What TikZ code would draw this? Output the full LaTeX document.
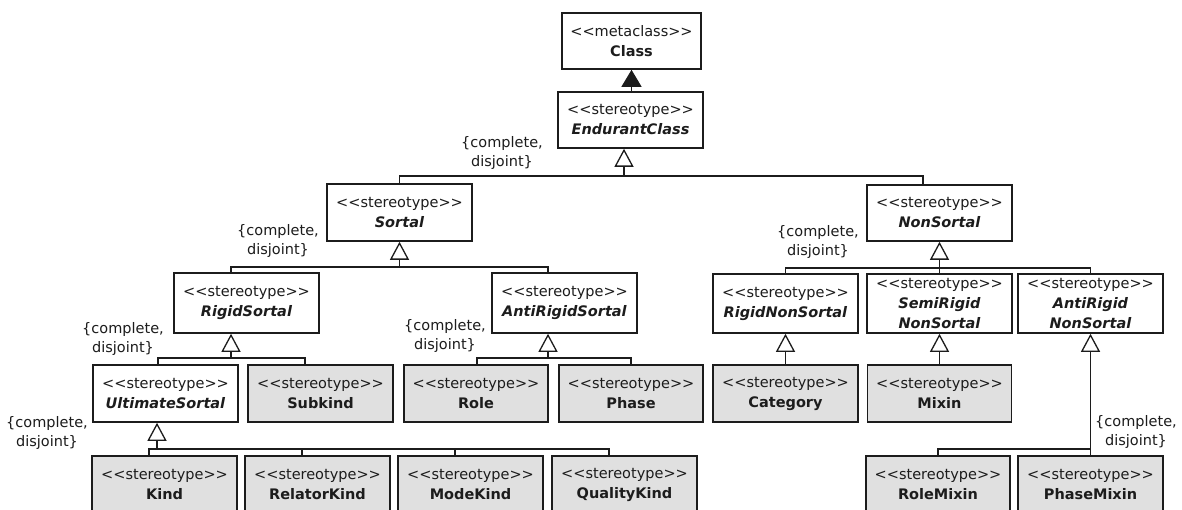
\documentclass[tikz,border=0pt]{standalone}
\usepackage{fontspec}
\setmainfont{DejaVu Sans}
\usetikzlibrary{arrows.meta}
\definecolor{concretefill}{RGB}{224,224,224}
\definecolor{ink}{RGB}{28,28,28}
\newcommand{\stereo}{<{}<stereotype>{}>}
\newcommand{\clsname}[1]{\textbf{\textit{#1}}}
\tikzset{
  cls/.style={draw=ink, line width=1.6pt, minimum width=145pt, minimum height=57pt,
              align=center, inner sep=0pt, text=ink,
              font=\fontsize{14.5}{20}\selectfont},
  abstractcls/.style={cls, fill=white},
  concretecls/.style={cls, fill=concretefill},
  genline/.style={draw=ink, line width=1.3pt},
  gen/.style={genline, -{Triangle[open, width=19pt, length=18pt, line width=1.3pt]}},
  inst/.style={genline, -{Triangle[width=20pt, length=17pt]}},
  constraint/.style={align=center, inner sep=0pt, text=ink,
                     font=\fontsize{14.5}{19}\selectfont},
}
\begin{document}
\begin{tikzpicture}[x=1pt, y=-1pt]
\clip (0,0) rectangle (1182,510);
\fill[white] (0,0) rectangle (1182,510);

% classes
\node[abstractcls, minimum width=139pt, minimum height=56pt] (class) at (631.5,41) {<{}<metaclass>{}>\\\textbf{Class}};
\node[abstractcls, minimum height=56pt] (endurant) at (630.5,120) {\stereo\\\clsname{EndurantClass}};
\node[abstractcls] (sortal) at (399.5,212.5) {\stereo\\\clsname{Sortal}};
\node[abstractcls, minimum height=56pt] (nonsortal) at (939.5,213) {\stereo\\\clsname{NonSortal}};
\node[abstractcls, minimum height=60pt] (rigidsortal) at (246.5,303) {\stereo\\\clsname{RigidSortal}};
\node[abstractcls, minimum height=60pt] (antirigidsortal) at (564.5,303) {\stereo\\\clsname{AntiRigidSortal}};
\node[abstractcls, minimum height=59pt] (rigidnonsortal) at (785.5,303.5) {\stereo\\\clsname{RigidNonSortal}};
\node[abstractcls, minimum height=59pt] (semirigid) at (939.5,303.5) {\stereo\\\clsname{SemiRigid}\\\clsname{NonSortal}};
\node[abstractcls, minimum height=59pt] (antirigidnon) at (1090.5,303.5) {\stereo\\\clsname{AntiRigid}\\\clsname{NonSortal}};
\node[abstractcls] (ultimate) at (165.5,393.5) {\stereo\\\clsname{UltimateSortal}};
\node[concretecls] (subkind) at (320.5,393.5) {\stereo\\\textbf{Subkind}};
\node[concretecls, minimum width=144pt] (role) at (476,393.5) {\stereo\\\textbf{Role}};
\node[concretecls, minimum width=144pt] (phase) at (631,393.5) {\stereo\\\textbf{Phase}};
\node[concretecls] (category) at (785.5,393.5) {\stereo\\\textbf{Category}};
\node[concretecls, minimum width=144pt] (mixin) at (939.5,393.5) {\stereo\\\textbf{Mixin}};
\node[concretecls] (kind) at (164.5,484.5) {\stereo\\\textbf{Kind}};
\node[concretecls] (relatorkind) at (317.5,484.5) {\stereo\\\textbf{RelatorKind}};
\node[concretecls] (modekind) at (470.5,484.5) {\stereo\\\textbf{ModeKind}};
\node[concretecls] (qualitykind) at (624.5,484.5) {\stereo\\\textbf{QualityKind}};
\node[concretecls, minimum width=144pt] (rolemixin) at (938,484.5) {\stereo\\\textbf{RoleMixin}};
\node[concretecls] (phasemixin) at (1090.5,484.5) {\stereo\\\textbf{PhaseMixin}};

% instantiation
\draw[inst] ([xshift=1pt]endurant.north) -- (class.south);

% EndurantClass partition
\coordinate (jE) at (624,176);
\draw[gen] (jE) -- ([xshift=-6.5pt]endurant.south);
\draw[genline] (sortal.north) |- (jE) -| ([xshift=-16.5pt]nonsortal.north);

% Sortal partition
\coordinate (jS) at (399.5,267);
\draw[gen] (jS) -- (sortal.south);
\draw[genline] ([xshift=-15.5pt]rigidsortal.north) |- (jS) -| ([xshift=-16.5pt]antirigidsortal.north);

% NonSortal partition
\coordinate (jN) at (939.5,268);
\draw[gen] (semirigid.north) -- (nonsortal.south);
\draw[genline] (rigidnonsortal.north) |- (jN) -| (antirigidnon.north);

% RigidSortal partition
\coordinate (jR) at (231,358);
\draw[gen] (jR) -- ([xshift=-15.5pt]rigidsortal.south);
\draw[genline] ([xshift=-7.5pt]ultimate.north) |- (jR) -| ([xshift=-15.5pt]subkind.north);

% AntiRigidSortal partition
\coordinate (jA) at (548,358);
\draw[gen] (jA) -- ([xshift=-16.5pt]antirigidsortal.south);
\draw[genline] ([xshift=1pt]role.north) |- (jA) -| (phase.north);

% single specialisations
\draw[gen] (category.north) -- (rigidnonsortal.south);
\draw[gen] (mixin.north) -- (semirigid.south);

% AntiRigidNonSortal partition
\coordinate (jAR) at (1090.5,449);
\draw[gen] (phasemixin.north) -- (antirigidnon.south);
\draw[genline] (rolemixin.north) |- (jAR);

% UltimateSortal partition
\coordinate (jU) at (157,449);
\coordinate (dRel) at ([xshift=-15.5pt]relatorkind.north);
\coordinate (dMode) at ([xshift=-15.5pt]modekind.north);
\draw[gen] (jU) -- ([xshift=-8.5pt]ultimate.south);
\draw[genline] ([xshift=-15.5pt]kind.north) |- (jU) -| ([xshift=-15.5pt]qualitykind.north);
\draw[genline] (dRel) -- (dRel |- jU);
\draw[genline] (dMode) -- (dMode |- jU);

% generalization set constraints
\node[constraint] (cE) at (502,153.5) {\{complete,\\disjoint\}};
\node[constraint] (cS) at (278,241) {\{complete,\\disjoint\}};
\node[constraint] (cN) at (818,242) {\{complete,\\disjoint\}};
\node[constraint] (cR) at (123,339) {\{complete,\\disjoint\}};
\node[constraint] (cA) at (445,336) {\{complete,\\disjoint\}};
\node[constraint] (cU) at (47,433) {\{complete,\\disjoint\}};
\node[constraint] (cAR) at (1136,432) {\{complete,\\disjoint\}};
\end{tikzpicture}
\end{document}
